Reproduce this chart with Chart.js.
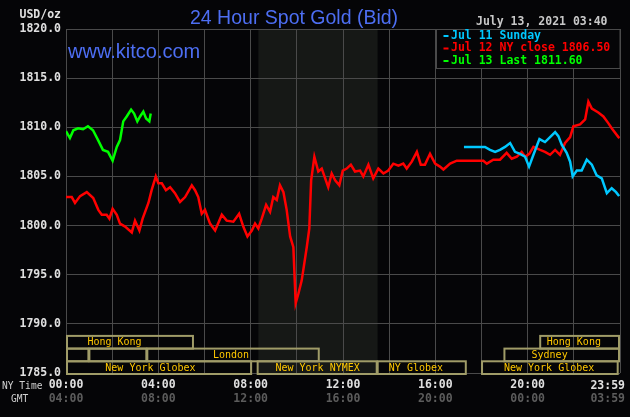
<!DOCTYPE html>
<html>
<head>
    <title>24 Hour Spot Gold (Bid)</title>
    <script src="https://cdn.jsdelivr.net/npm/chart.js"></script>
    <style>
        body {
            margin: 0;
            background-color: #050507;
        }
        canvas {
            display: block;
        }
    </style>
</head>
<body>
    <canvas id="goldChart" width="630" height="417"></canvas>

    <script>
        // hours are NY time, 0 = 00:00, 24 = 23:59
        var sundayHours = [17.24, 18.15, 18.37, 18.59, 18.80, 19.02, 19.24, 19.45, 19.67, 19.89, 20.06, 20.25, 20.51, 20.75, 20.97, 21.19, 21.33, 21.48, 21.69, 21.84, 21.95, 22.13, 22.34, 22.56, 22.78, 22.99, 23.21, 23.43, 23.64, 23.83, 23.96];
        var sundayValues = [1808.0, 1808.0, 1807.7, 1807.5, 1807.7, 1808.0, 1808.4, 1807.5, 1807.3, 1807.0, 1806.0, 1807.2, 1808.8, 1808.5, 1809.0, 1809.5, 1809.1, 1808.2, 1807.4, 1806.5, 1805.0, 1805.6, 1805.6, 1806.7, 1806.2, 1805.1, 1804.8, 1803.3, 1803.8, 1803.4, 1803.0];

        var closeHours = [0.00, 0.25, 0.39, 0.61, 0.90, 1.18, 1.40, 1.55, 1.76, 1.88, 2.02, 2.20, 2.34, 2.56, 2.85, 2.99, 3.18, 3.32, 3.57, 3.71, 3.89, 4.00, 4.15, 4.33, 4.51, 4.72, 4.94, 5.16, 5.45, 5.59, 5.73, 5.88, 6.02, 6.24, 6.46, 6.75, 6.96, 7.25, 7.50, 7.68, 7.86, 8.05, 8.19, 8.33, 8.48, 8.67, 8.84, 8.98, 9.13, 9.27, 9.42, 9.56, 9.71, 9.85, 9.95, 10.07, 10.21, 10.43, 10.54, 10.62, 10.76, 10.93, 11.08, 11.36, 11.51, 11.66, 11.84, 11.99, 12.16, 12.34, 12.52, 12.74, 12.88, 13.10, 13.31, 13.53, 13.75, 13.96, 14.18, 14.40, 14.61, 14.76, 14.98, 15.20, 15.37, 15.55, 15.77, 15.99, 16.20, 16.35, 16.64, 16.93, 18.08, 18.23, 18.51, 18.80, 19.09, 19.31, 19.53, 19.74, 19.89, 20.07, 20.25, 20.54, 20.75, 20.97, 21.19, 21.40, 21.62, 21.84, 21.98, 22.27, 22.49, 22.63, 22.78, 23.06, 23.28, 23.50, 23.64, 23.93, 23.98];
        var closeValues = [1802.9, 1802.9, 1802.3, 1803.0, 1803.4, 1802.8, 1801.6, 1801.1, 1801.1, 1800.7, 1801.7, 1801.1, 1800.2, 1799.9, 1799.3, 1800.5, 1799.5, 1800.7, 1802.3, 1803.6, 1805.0, 1804.3, 1804.3, 1803.6, 1803.9, 1803.3, 1802.4, 1802.9, 1804.1, 1803.6, 1802.9, 1801.2, 1801.6, 1800.2, 1799.5, 1801.1, 1800.5, 1800.4, 1801.2, 1799.9, 1798.9, 1799.5, 1800.2, 1799.7, 1800.7, 1802.1, 1801.4, 1802.9, 1802.6, 1804.1, 1803.4, 1801.6, 1798.9, 1797.8, 1792.1, 1793.1, 1794.4, 1797.8, 1799.7, 1804.6, 1807.0, 1805.5, 1805.8, 1803.9, 1805.3, 1804.6, 1804.1, 1805.6, 1805.8, 1806.2, 1805.5, 1805.6, 1805.0, 1806.2, 1804.8, 1805.8, 1805.3, 1805.6, 1806.3, 1806.1, 1806.3, 1805.8, 1806.5, 1807.5, 1806.2, 1806.2, 1807.3, 1806.3, 1806.0, 1805.7, 1806.3, 1806.6, 1806.6, 1806.3, 1806.7, 1806.7, 1807.4, 1806.8, 1807.0, 1807.5, 1807.0, 1807.3, 1808.0, 1807.7, 1807.5, 1807.2, 1807.7, 1807.2, 1808.4, 1809.0, 1810.1, 1810.3, 1810.8, 1812.6, 1811.9, 1811.5, 1811.1, 1810.4, 1809.9, 1809.0, 1808.9];

        var lastHours = [0.00, 0.17, 0.32, 0.52, 0.74, 0.95, 1.17, 1.39, 1.60, 1.82, 2.02, 2.20, 2.34, 2.48, 2.63, 2.82, 2.95, 3.09, 3.21, 3.35, 3.47, 3.61, 3.67];
        var lastValues = [1809.6, 1808.9, 1809.7, 1809.9, 1809.8, 1810.1, 1809.7, 1808.7, 1807.7, 1807.5, 1806.6, 1808.0, 1808.7, 1810.6, 1811.1, 1811.8, 1811.4, 1810.6, 1811.1, 1811.6, 1810.9, 1810.6, 1811.4];

        var seriesLabels = ['Jul 11 Sunday', 'Jul 12 NY close 1806.50', 'Jul 13 Last 1811.60'];
        var seriesColors = ['#00c8ff', '#ff0000', '#00ff00'];

        var nyTickLabels = ['00:00', '04:00', '08:00', '12:00', '16:00', '20:00', '23:59'];
        var gmtTickLabels = ['04:00', '08:00', '12:00', '16:00', '20:00', '00:00', '03:59'];

        // market sessions: row 0 = top row
        var sessions = [
            { row: 0, start: 0, end: 5.5, label: 'Hong Kong', at: 2.1 },
            { row: 0, start: 20.5, end: 24, label: 'Hong Kong', at: 22.0 },
            { row: 1, start: 0, end: 0.97, label: '', at: 0 },
            { row: 1, start: 0.97, end: 3.48, label: '', at: 0 },
            { row: 1, start: 3.48, end: 10.95, label: 'London', at: 7.15 },
            { row: 1, start: 18.95, end: 24, label: 'Sydney', at: 20.95 },
            { row: 2, start: 0, end: 8.02, label: 'New York Globex', at: 3.66 },
            { row: 2, start: 8.26, end: 13.46, label: 'New York NYMEX', at: 10.9 },
            { row: 2, start: 13.46, end: 17.32, label: 'NY Globex', at: 15.16 },
            { row: 2, start: 17.98, end: 23.9, label: 'New York Globex', at: 20.93 }
        ];
        var nymexStart = 8.333;
        var nymexEnd = 13.5;

        var monoFont = '"DejaVu Sans Mono", monospace';
        var gridColor = '#4a4a4a';

        function toPoints(hours, values) {
            return hours.map(function(h, i) { return { x: h, y: values[i] }; });
        }

        var kitcoPlugin = {
            id: 'kitco',
            beforeDraw: function(chart) {
                var ctx = chart.ctx;
                var area = chart.chartArea;
                var xs = chart.scales.x;
                ctx.save();
                ctx.fillStyle = '#050507';
                ctx.fillRect(0, 0, chart.width, chart.height);
                ctx.fillStyle = '#161816';
                var x0 = xs.getPixelForValue(nymexStart);
                var x1 = xs.getPixelForValue(nymexEnd);
                ctx.fillRect(x0, area.top, x1 - x0, area.bottom - area.top);
                ctx.restore();
            },
            afterDraw: function(chart) {
                var ctx = chart.ctx;
                var area = chart.chartArea;
                var xs = chart.scales.x;
                ctx.save();

                // session bars
                var rowH = 12.7;
                ctx.lineWidth = 2;
                ctx.strokeStyle = '#a09c68';
                ctx.font = '10px ' + monoFont;
                ctx.textAlign = 'center';
                ctx.textBaseline = 'middle';
                sessions.forEach(function(s) {
                    var top = area.bottom - rowH * (3 - s.row);
                    var x0 = xs.getPixelForValue(s.start);
                    var x1 = Math.min(xs.getPixelForValue(s.end), area.right - 1);
                    ctx.strokeRect(x0 + 1, top + 1, x1 - x0 - 1, rowH);
                });
                ctx.fillStyle = '#ffc800';
                sessions.forEach(function(s) {
                    if (!s.label) return;
                    var top = area.bottom - rowH * (3 - s.row);
                    ctx.fillText(s.label, xs.getPixelForValue(s.at), top + rowH / 2 + 1.5);
                });

                // title and site
                ctx.textAlign = 'left';
                ctx.textBaseline = 'alphabetic';
                ctx.fillStyle = '#4d6ef2';
                ctx.font = '19.5px "Liberation Sans", Arial, sans-serif';
                ctx.fillText('24 Hour Spot Gold (Bid)', 190, 24);
                ctx.font = '20px "Liberation Sans", Arial, sans-serif';
                ctx.fillText('www.kitco.com', 68, 58);

                // date stamp
                ctx.textBaseline = 'middle';
                ctx.font = 'bold 11.5px ' + monoFont;
                ctx.fillStyle = '#c8c8c8';
                ctx.fillText('July 13, 2021 03:40', 476, 22);

                // unit label
                ctx.textAlign = 'right';
                ctx.fillStyle = '#e0e0e0';
                ctx.fillText('USD/oz', 61, 15.5);

                // last tick labels, right aligned
                ctx.fillText(nyTickLabels[nyTickLabels.length - 1], 625, 386);
                ctx.fillStyle = '#5c5c5c';
                ctx.fillText(gmtTickLabels[gmtTickLabels.length - 1], 625, 399.5);

                // row captions
                ctx.textAlign = 'left';
                ctx.fillStyle = '#d0d0d0';
                ctx.font = '9.6px ' + monoFont;
                ctx.fillText('NY Time', 2, 386.5);
                ctx.fillText('GMT', 11, 399.5);

                // legend box
                ctx.fillStyle = '#050507';
                ctx.fillRect(436, area.top, area.right - 436, 39);
                ctx.strokeStyle = gridColor;
                ctx.lineWidth = 1;
                ctx.strokeRect(436.5, area.top + 0.5, area.right - 436.5, 39);
                ctx.font = 'bold 11.5px ' + monoFont;
                var rows = [36, 48.5, 61];
                seriesLabels.forEach(function(label, i) {
                    ctx.fillStyle = seriesColors[i];
                    ctx.fillRect(443.5, rows[i] - 1, 5, 2);
                    ctx.fillText(label, 451, rows[i]);
                });

                ctx.restore();
            }
        };

        var datasets = [
            { label: seriesLabels[0], data: toPoints(sundayHours, sundayValues), borderColor: seriesColors[0] },
            { label: seriesLabels[1], data: toPoints(closeHours, closeValues), borderColor: seriesColors[1] },
            { label: seriesLabels[2], data: toPoints(lastHours, lastValues), borderColor: seriesColors[2] }
        ];
        datasets.forEach(function(d) {
            d.borderWidth = 2.5;
            d.pointRadius = 0;
            d.tension = 0;
            d.fill = false;
        });

        var chart = new Chart(document.getElementById('goldChart').getContext('2d'), {
            type: 'line',
            data: { datasets: datasets },
            options: {
                responsive: false,
                animation: false,
                devicePixelRatio: 1,
                layout: { padding: { top: 29, right: 10, left: 0, bottom: 0 } },
                plugins: {
                    legend: { display: false },
                    tooltip: { enabled: false }
                },
                scales: {
                    x: {
                        type: 'linear',
                        min: 0,
                        max: 24,
                        weight: 0,
                        afterFit: function(scale) { scale.height = 18; },
                        grid: { color: gridColor, lineWidth: 1, drawTicks: false },
                        border: { display: false },
                        ticks: {
                            stepSize: 2,
                            autoSkip: false,
                            maxRotation: 0,
                            padding: 5.5,
                            color: '#e0e0e0',
                            font: { family: monoFont, weight: 'bold', size: 11.5 },
                            callback: function(v) {
                                if (v % 4 !== 0 || v >= 24) return '';
                                return nyTickLabels[v / 4];
                            }
                        }
                    },
                    x2: {
                        type: 'linear',
                        position: 'bottom',
                        min: 0,
                        max: 24,
                        weight: 1,
                        afterFit: function(scale) { scale.height = 26; },
                        grid: { display: false, drawTicks: false },
                        border: { display: false },
                        ticks: {
                            stepSize: 4,
                            autoSkip: false,
                            maxRotation: 0,
                            padding: 1,
                            color: '#5c5c5c',
                            font: { family: monoFont, weight: 'bold', size: 11.5 },
                            callback: function(v) {
                                if (v >= 24) return '';
                                return gmtTickLabels[v / 4];
                            }
                        }
                    },
                    y: {
                        min: 1785,
                        max: 1820,
                        afterFit: function(scale) { scale.width = 66; },
                        grid: { color: gridColor, lineWidth: 1, drawTicks: false },
                        border: { display: false },
                        ticks: {
                            stepSize: 5,
                            padding: 5,
                            color: '#e0e0e0',
                            font: { family: monoFont, weight: 'bold', size: 11.5 },
                            callback: function(v) { return v.toFixed(1); }
                        }
                    }
                }
            },
            plugins: [kitcoPlugin]
        });
    </script>
</body>
</html>
